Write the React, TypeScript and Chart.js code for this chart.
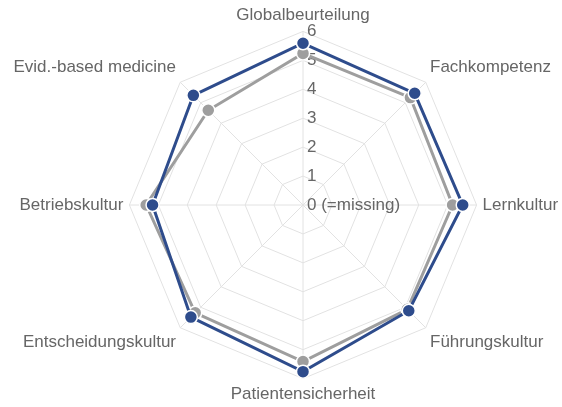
import React, { useEffect, useRef } from "react";
import { Chart, registerables } from "chart.js";

Chart.register(...registerables);

const CATEGORIES = [
  "Globalbeurteilung",
  "Fachkompetenz",
  "Lernkultur",
  "Führungskultur",
  "Patientensicherheit",
  "Entscheidungskultur",
  "Betriebskultur",
  "Evid.-based medicine",
];

const SERIES_BLUE = [5.59, 5.46, 5.52, 5.17, 5.76, 5.48, 5.2, 5.36];
const SERIES_GRAY = [5.24, 5.25, 5.17, 5.1, 5.41, 5.27, 5.42, 4.63];

const TICK_VALUES = [0, 1, 2, 3, 4, 5, 6];
const TICK_LABELS = ["0 (=missing)", "1", "2", "3", "4", "5", "6"];

const FONT_FAMILY = "'Liberation Sans', Arial, Helvetica, sans-serif";
const TEXT_COLOR = "#666666";

const tickLabelPlugin = {
  id: "leftTickLabels",
  beforeDatasetsDraw(chart: any) {
    const scale = chart.scales.r;
    const ctx = chart.ctx;
    ctx.save();
    ctx.font = `17px ${FONT_FAMILY}`;
    ctx.fillStyle = TEXT_COLOR;
    ctx.textAlign = "left";
    ctx.textBaseline = "middle";
    TICK_VALUES.forEach((v, i) => {
      const d = scale.getDistanceFromCenterForValue(v);
      ctx.fillText(TICK_LABELS[i], scale.xCenter + 4, scale.yCenter - d);
    });
    ctx.restore();
  },
};

export default function App() {
  const canvasRef = useRef<HTMLCanvasElement | null>(null);

  useEffect(() => {
    document.body.style.margin = "0";
    const canvas = canvasRef.current;
    if (!canvas) return;
    const chart = new Chart(canvas, {
      type: "radar",
      data: {
        labels: CATEGORIES,
        datasets: [
          {
            label: "Blau",
            data: SERIES_BLUE,
            borderColor: "#2E4C8C",
            backgroundColor: "#2E4C8C",
            pointBackgroundColor: "#2E4C8C",
            pointBorderColor: "#ffffff",
            pointBorderWidth: 1.5,
            pointRadius: 6.5,
            borderWidth: 3,
            fill: false,
          },
          {
            label: "Grau",
            data: SERIES_GRAY,
            borderColor: "#9E9E9E",
            backgroundColor: "#9E9E9E",
            pointBackgroundColor: "#9E9E9E",
            pointBorderColor: "#ffffff",
            pointBorderWidth: 1.5,
            pointRadius: 6.5,
            borderWidth: 3,
            fill: false,
          },
        ],
      },
      options: {
        animation: false,
        responsive: true,
        maintainAspectRatio: false,
        plugins: {
          legend: { display: false },
          tooltip: { enabled: false },
        },
        layout: { padding: { left: 0, right: 0, top: 5, bottom: 2 } },
        scales: {
          r: {
            min: 0,
            max: 6,
            ticks: { display: false, stepSize: 1 },
            grid: { color: "#E2E2E2", lineWidth: 1 },
            angleLines: { color: "#E2E2E2", lineWidth: 1 },
            pointLabels: {
              color: TEXT_COLOR,
              padding: 6,
              font: { family: FONT_FAMILY, size: 17 },
            },
          },
        },
      },
      plugins: [tickLabelPlugin],
    });
    return () => chart.destroy();
  }, []);

  return (
    <div style={{ position: "fixed", left: -20, top: 0, width: 646, height: 407 }}>
      <canvas ref={canvasRef} />
    </div>
  );
}
